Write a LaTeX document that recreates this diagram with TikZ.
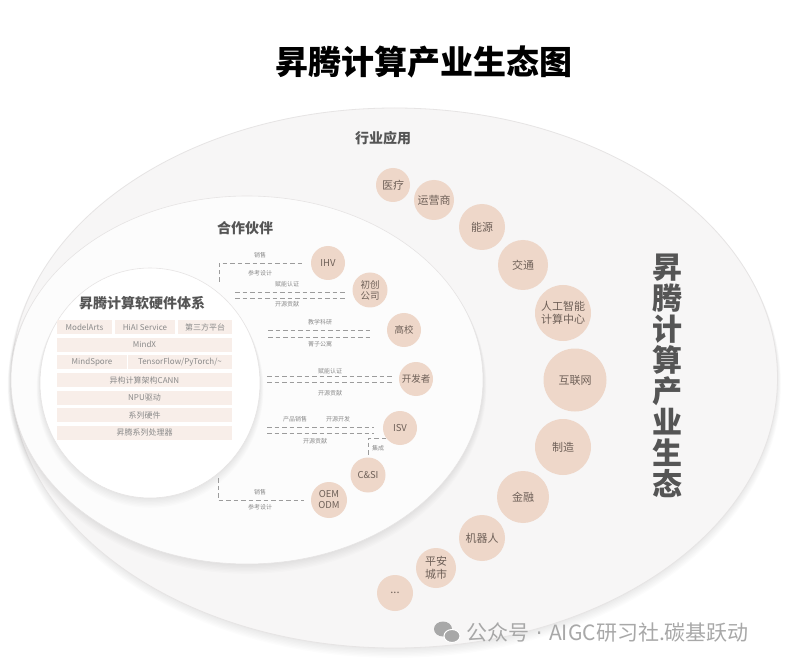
\documentclass[tikz,border=0pt]{standalone}
\usepackage{fontspec}
\setmainfont{Noto Sans CJK SC}
\newfontfamily\dotfont{DejaVu Sans}
\definecolor{outerfill}{HTML}{F7F6F6}
\definecolor{midfill}{HTML}{FCFCFC}
\definecolor{peach}{HTML}{EED7C9}
\definecolor{ptext}{HTML}{6E6058}
\definecolor{boxfill}{HTML}{F8EEE9}
\definecolor{stxt}{HTML}{8A8A8A}
\definecolor{dash}{HTML}{9C9C9C}
\definecolor{headgray}{HTML}{555555}
\definecolor{wm}{HTML}{A8A8A8}
\definecolor{rim}{HTML}{E6E4E4}
\tikzset{
  pnode/.style={circle, fill=peach, text=ptext, inner sep=0pt, minimum size=#1, align=center,
    font=\fontsize{9.5}{11}\selectfont},
  inode/.style={circle, fill=peach, text=ptext, inner sep=0pt, minimum size=#1, align=center,
    font=\fontsize{11}{12.5}\selectfont},
  sbox/.style={fill=boxfill, text=stxt, inner sep=0pt, minimum height=14pt, minimum width=#1,
    font=\fontsize{8}{9}\selectfont},
  dline/.style={draw=dash, line width=0.8pt, dash pattern=on 4.5pt off 3pt},
  lbl/.style={text=stxt, inner sep=0pt, font=\fontsize{6}{7}\selectfont},
  head/.style={text=headgray, inner sep=0pt, font=\fontsize{14}{16}\selectfont\bfseries}
}
% soft shadow below an ellipse: centre x, centre y, x radius, y radius
\newcommand{\softshade}[4]{%
  \foreach \k in {1,...,7}{%
    \fill[black, opacity=0.012] (#1,#2+0.9*\k) ellipse [x radius={#3pt+0.5pt*\k}, y radius={#4pt+0.5pt*\k}];
  }%
}
\begin{document}
\begin{tikzpicture}[x=1pt,y=-1pt]
\useasboundingbox (0,0) rectangle (785,663);
\fill[white] (0,0) rectangle (785,663);

% title
\node[inner sep=0pt, font=\fontsize{33}{36}\selectfont\bfseries] (title) at (424,62) {昇腾计算产业生态图};

% outer ellipse
\softshade{394.5}{378}{383}{270}
\fill[outerfill, draw=rim, line width=0.8pt] (394.5,378) ellipse [x radius=383pt, y radius=270pt];
% middle ellipse
\softshade{247}{380}{236}{184}
\fill[midfill, draw=rim, line width=0.6pt] (247,380) ellipse [x radius=236pt, y radius=184pt];
% inner ellipse
\softshade{150}{383}{110}{115}
\fill[white, draw=rim, line width=0.6pt] (150,383) ellipse [x radius=110pt, y radius=115pt];

% headings
\node[head] (hy) at (383,138) {行业应用};
\node[head] (hz) at (245,228) {合作伙伴};
\node[head] (hs) at (142,303) {昇腾计算软硬件体系};

% stack
\node[sbox=55pt] (s1a) at (84.5,327) {ModelArts};
\node[sbox=60pt] (s1b) at (145,327) {HiAI Service};
\node[sbox=54pt] (s1c) at (205,327) {第三方平台};
\node[sbox=175pt] (s2) at (144.5,344.5) {MindX};
\node[sbox=70pt] (s3a) at (92,362) {MindSpore};
\node[sbox=104pt] (s3b) at (180,362) {TensorFlow/PyTorch/\textasciitilde};
\node[sbox=175pt] (s4) at (144.5,380) {异构计算架构CANN};
\node[sbox=175pt] (s5) at (144.5,397.5) {NPU驱动};
\node[sbox=175pt] (s6) at (144.5,415) {系列硬件};
\node[sbox=175pt] (s7) at (144.5,432.5) {昇腾系列处理器};

% partner circles
\node[pnode=34pt] (ihv) at (328,263) {IHV};
\node[pnode=35pt] (cs) at (370,290) {初创\\公司};
\node[pnode=34pt] (uni) at (404,330) {高校};
\node[pnode=34pt] (dev) at (416,379) {开发者};
\node[pnode=34pt] (isv) at (400,428) {ISV};
\node[pnode=35pt] (csi) at (368,475) {C\&SI};
\node[pnode=36pt] (oem) at (329,500) {OEM\\ODM};

% connectors
\coordinate (ihvS) at (219,282);
\draw[dline, shorten >=7pt] (ihvS) |- (ihv.west);
\node[lbl] (l1a) at (260,255) {销售};
\node[lbl] (l1b) at (260,273) {参考设计};

\coordinate (cs1) at (235,292);
\coordinate (cs2) at (235,298);
\draw[dline, shorten >=7pt] (cs1) -- (cs1 -| cs.west);
\draw[dline, shorten >=7pt] (cs2) -- (cs2 -| cs.west);
\node[lbl] (l2a) at (287,284) {赋能认证};
\node[lbl] (l2b) at (287,304) {开源贡献};

\coordinate (u1) at (268,330);
\coordinate (u2) at (268,337);
\draw[dline, shorten >=15pt] (u1) -- (u1 -| uni.west);
\draw[dline, shorten >=15pt] (u2) -- (u2 -| uni.west);
\node[lbl] (l3a) at (320,322) {教学科研};
\node[lbl] (l3b) at (320,344) {菁子公寓};

\coordinate (d1) at (267,376);
\coordinate (d2) at (267,382);
\draw[dline, shorten >=7pt] (d1) -- (d1 -| dev.west);
\draw[dline, shorten >=7pt] (d2) -- (d2 -| dev.west);
\node[lbl] (l4a) at (330,371) {赋能认证};
\node[lbl] (l4b) at (330,393) {开源贡献};

\coordinate (i1) at (267,427);
\coordinate (i2) at (267,433);
\draw[dline, shorten >=9pt] (i1) -- (i1 -| isv.west);
\draw[dline, shorten >=9pt] (i2) -- (i2 -| isv.west);
\node[lbl] (l5a) at (295,419) {产品销售};
\node[lbl] (l5b) at (338,419) {开源开发};
\node[lbl] (l5c) at (315,441) {开源贡献};
\draw[dline] (isv.218) -| (csi.north);
\node[lbl] (l5d) at (378,448) {集成};

\coordinate (oemS) at (218,478);
\draw[dline, shorten >=7pt] (oemS) |- (oem.west);
\node[lbl] (l6a) at (260,492) {销售};
\node[lbl] (l6b) at (260,507) {参考设计};

% industry circles
\node[inode=34pt] (med) at (393,185) {医疗};
\node[inode=40pt] (opr) at (434,200) {运营商};
\node[inode=46pt] (ene) at (482,227) {能源};
\node[inode=50pt] (tra) at (523,265) {交通};
\node[inode=56pt] (aicc) at (563,313) {人工智能\\计算中心};
\node[inode=63pt] (inet) at (575,380) {互联网};
\node[inode=56pt] (mfg) at (563,447) {制造};
\node[inode=52pt] (fin) at (523,497) {金融};
\node[inode=46pt] (rob) at (482,538) {机器人};
\node[inode=40pt] (city) at (436,568) {平安\\城市};
\node[inode=36pt] (more) at (395,593) {...};

% vertical title
\node[inner sep=0pt, align=center, text=headgray, font=\fontsize{30}{31}\selectfont\bfseries] (vt) at (667,376)
  {昇\\腾\\计\\算\\产\\业\\生\\态};

% watermark
\fill[wm] (443,629) ellipse [x radius=9pt, y radius=7.5pt];
\fill[wm, draw=white, line width=1pt] (452,636) ellipse [x radius=8pt, y radius=6.5pt];
\node[inner sep=0pt, anchor=west, text=wm, font=\fontsize{21}{23}\selectfont] (wmt) at (466,632) {公众号{\dotfont\ ·\ }AIGC研习社.碳基跃动};
\end{tikzpicture}
\end{document}
